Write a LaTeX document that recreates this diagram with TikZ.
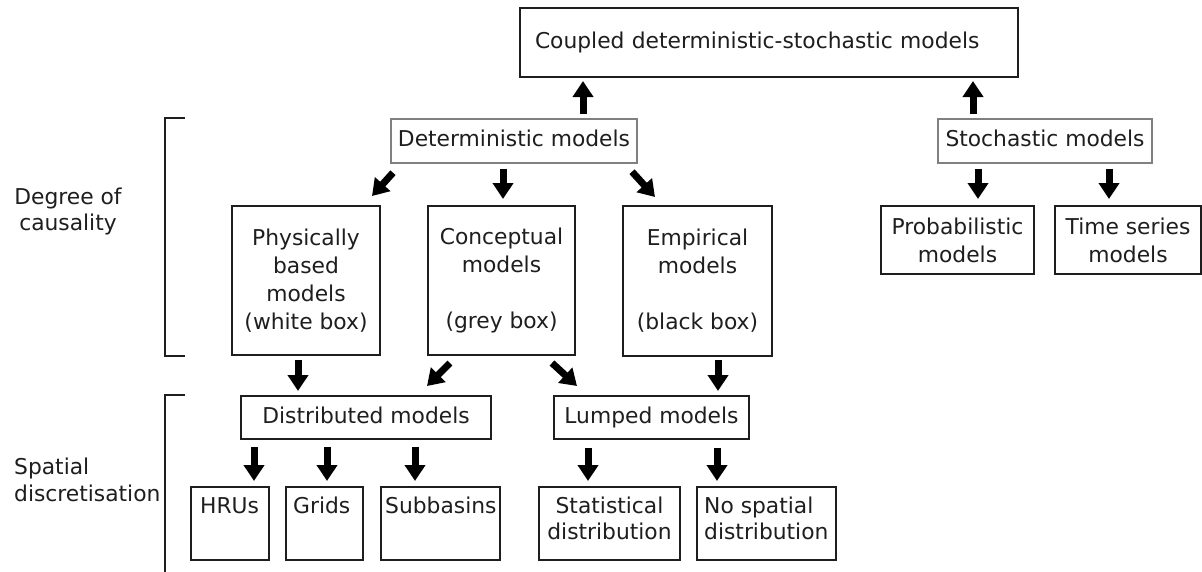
\documentclass[tikz,border=0pt]{standalone}
\usepackage{fontspec}
\setmainfont{DejaVu Sans}
\usetikzlibrary{arrows.meta,calc}
\definecolor{ink}{HTML}{1E1E1E}
\definecolor{greyline}{HTML}{808080}
\begin{document}
\begin{tikzpicture}[x=1pt,y=-1pt,
  every node/.style={font=\fontsize{21.8}{28}\selectfont, text=ink},
  blk/.style={draw=ink, line width=2pt, inner sep=0pt, align=center},
  gry/.style={draw=greyline, line width=1.4pt, inner sep=0pt, align=center},
  oneline/.style={text height=16.6pt, text depth=5pt},
  arr/.style={draw=black, line width=7pt, -{Triangle[width=20pt,length=16pt]}},
  brk/.style={draw=ink, line width=2pt},
  lbl/.style={inner sep=0pt}]
\fill[white] (0,0) rectangle (1202,571);
\useasboundingbox (0,0) rectangle (1202,571);

% top level
\node[blk, oneline, align=left, text width=468pt, minimum width=498pt, minimum height=69pt] (coupled) at (769,42.5) {Coupled deterministic-stochastic models};
\node[gry, oneline, minimum width=246pt, minimum height=44pt] (det) at (514,141) {Deterministic models};
\node[gry, oneline, minimum width=214pt, minimum height=44pt] (stoch) at (1045,141) {Stochastic models};

% middle row
\node[blk, minimum width=148pt, minimum height=149pt] (phys) at (306,280.5) {Physically\\based\\models\\(white box)};
\node[blk, minimum width=147pt, minimum height=149pt] (conc) at (501.5,280.5) {Conceptual\\models\\\mbox{}\\(grey box)};
\node[blk, minimum width=149pt, minimum height=150pt] (emp) at (697.5,281) {Empirical\\models\\\mbox{}\\(black box)};
\node[blk, minimum width=153pt, minimum height=68pt] (prob) at (957.5,240) {Probabilistic\\models};
\node[blk, minimum width=146pt, minimum height=68pt] (ts) at (1128,240) {Time series\\models};

% third row
\node[blk, oneline, minimum width=250pt, minimum height=43pt] (dist) at (366,417.5) {Distributed models};
\node[blk, oneline, minimum width=195pt, minimum height=43pt] (lump) at (651.5,417.5) {Lumped models};

% bottom row boxes
\node[blk, minimum width=78pt, minimum height=73pt] (hru) at (230,523.5) {};
\node[blk, minimum width=77pt, minimum height=73pt] (grids) at (324.5,523.5) {};
\node[blk, minimum width=119pt, minimum height=73pt] (subb) at (440.5,523.5) {};
\node[blk, minimum width=141pt, minimum height=73pt] (stat) at (609.5,523.5) {};
\node[blk, minimum width=139pt, minimum height=73pt] (nosp) at (766.5,523.5) {};
\node[lbl, anchor=base west] (hrut) at (200,513) {HRUs};
\node[lbl, anchor=base west] (gridst) at (293,513) {Grids};
\node[lbl, anchor=base west] (subbt) at (385,513) {Subbasins};
\node[lbl, anchor=north, align=center, font=\fontsize{21.8}{26}\selectfont] (statt) at (609.5,496.4) {Statistical\\distribution};
\node[lbl, anchor=north west, align=left, font=\fontsize{21.8}{26}\selectfont] (nospt) at (704,496.4) {No spatial\\distribution};

% side labels and brackets
\node[lbl, anchor=north, align=center, font=\fontsize{21.8}{26}\selectfont] (causal) at (68,187.4) {Degree of\\causality};
\node[lbl, anchor=north west, align=left, font=\fontsize{21.8}{27}\selectfont] (spatial) at (14,457.4) {Spatial\\discretisation};
\draw[brk] (185,118) -- (165,118) -- (165,356) -- (185,356);
\draw[brk] (185,395) -- (165,395) -- (165,572);

% arrows
\draw[arr] ($(det.north)+(69pt,4pt)$) -- ($(coupled.south)+(-186pt,-3pt)$);
\draw[arr] ($(stoch.north)+(-72pt,4pt)$) -- ($(coupled.south)+(204pt,-3pt)$);
\draw[arr] ($(det.south)+(-121pt,-9pt)$) -- ($(phys.north)+(66pt,9pt)$);
\draw[arr] ($(det.south)+(-11pt,-5pt)$) -- ($(conc.north)+(1.5pt,6pt)$);
\draw[arr] ($(det.south)+(118pt,-8pt)$) -- ($(emp.north)+(-42.5pt,8pt)$);
\draw[arr] ($(stoch.south)+(-67pt,-5pt)$) -- ($(prob.north)+(20.5pt,6pt)$);
\draw[arr] ($(stoch.south)+(64pt,-5pt)$) -- ($(ts.north)+(-19pt,6pt)$);
\draw[arr] ($(phys.south)+(-8pt,-4pt)$) -- ($(dist.north)+(-68pt,4pt)$);
\draw[arr] ($(conc.south)+(-51.5pt,-7pt)$) -- ($(dist.north)+(61pt,9pt)$);
\draw[arr] ($(conc.south)+(50.5pt,-7pt)$) -- ($(lump.north)+(-74.5pt,9pt)$);
\draw[arr] ($(emp.south)+(20.5pt,-3pt)$) -- ($(lump.north)+(66.5pt,4pt)$);
\draw[arr] ($(dist.south)+(-112pt,-7pt)$) -- ($(hru.north)+(24pt,5pt)$);
\draw[arr] ($(dist.south)+(-39pt,-7pt)$) -- ($(grids.north)+(2.5pt,5pt)$);
\draw[arr] ($(dist.south)+(49pt,-7pt)$) -- ($(subb.north)+(-25.5pt,5pt)$);
\draw[arr] ($(lump.south)+(-63.5pt,-8pt)$) -- ($(stat.north)+(-21.5pt,5pt)$);
\draw[arr] ($(lump.south)+(65.5pt,-8pt)$) -- ($(nosp.north)+(-49.5pt,5pt)$);
\end{tikzpicture}
\end{document}
